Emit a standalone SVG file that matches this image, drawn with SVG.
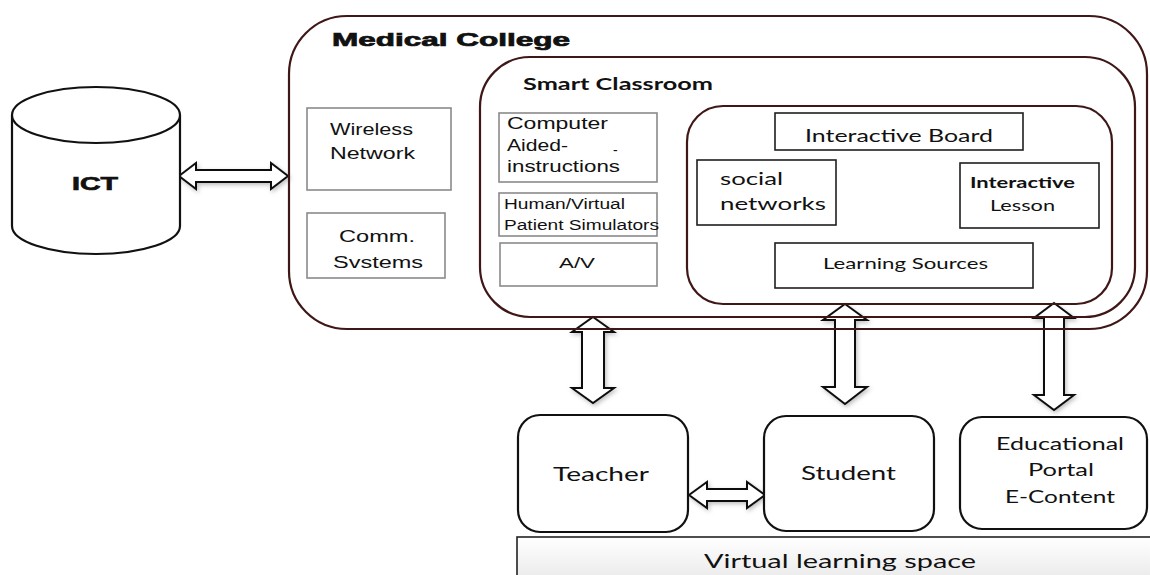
<svg xmlns="http://www.w3.org/2000/svg" width="1150" height="575" viewBox="0 0 1150 575">
<defs>
<filter id="sh" x="-30%" y="-30%" width="160%" height="160%">
<feDropShadow dx="1.5" dy="2" stdDeviation="2" flood-color="#000" flood-opacity="0.25"/>
</filter>
<linearGradient id="vg" x1="0" y1="0" x2="0" y2="1">
<stop offset="0" stop-color="#ffffff"/>
<stop offset="1" stop-color="#e6e6e6"/>
</linearGradient>
<style>
.cont{fill:none;stroke:#3f1717;stroke-width:2.2}
.gbox{fill:#fff;stroke:#8a8a8a;stroke-width:1.6}
.dbox{fill:#fff;stroke:#1e1e1e;stroke-width:1.6}
.rbox{fill:#fff;stroke:#111;stroke-width:2.2}
.arr{fill:#fff;stroke:#111;stroke-width:2;stroke-linejoin:miter;filter:url(#sh)}
.hv{font-family:"Liberation Sans",Arial,sans-serif;fill:#111}
.cal{font-family:Lato,"Open Sans",sans-serif;fill:#111}
.b{font-weight:bold}
.heavy{font-weight:bold;stroke:#111;stroke-width:0.7}
</style>
</defs>

<g id="connectors">
<polygon class="arr" points="179,176 196,163 196,170 271,170 271,163 288,176 271,189 271,182 196,182 196,189"/>
<polygon class="arr" points="593,317 614,332 604,332 604,388 614,388 593,403 572,388 582,388 582,332 572,332"/>
<polygon class="arr" points="845,304 867,320 855,320 855,387 867,387 845,404 823,387 835,387 835,320 823,320"/>
<polygon class="arr" points="1054,303 1074,318 1064,318 1064,395 1074,395 1054,410 1034,395 1044,395 1044,318 1034,318"/>
<polygon class="arr" points="689,495 707,482 707,489 747,489 747,482 765,495 747,508 747,501 707,501 707,508"/>
</g>

<g id="ict">
<path d="M12,115 L12,226 A84,28 0 0 0 180,226 L180,115" fill="#fff" stroke="#111" stroke-width="2.2"/>
<ellipse cx="96" cy="115" rx="84" ry="28" fill="#fff" stroke="#111" stroke-width="2.2"/>
<text class="hv heavy" x="72" y="190" font-size="19" textLength="46" lengthAdjust="spacingAndGlyphs">ICT</text>
</g>

<g id="medical-college">
<rect class="cont" x="289" y="16" width="858" height="313" rx="58" ry="58"/>
<text class="hv heavy" x="332" y="46" font-size="18" textLength="238" lengthAdjust="spacingAndGlyphs">Medical College</text>
</g>

<g id="wireless-network">
<rect class="gbox" x="307" y="108" width="144" height="82"/>
<text class="hv" x="330" y="135" font-size="16" textLength="83" lengthAdjust="spacingAndGlyphs">Wireless</text>
<text class="hv" x="330" y="159" font-size="16" textLength="85" lengthAdjust="spacingAndGlyphs">Network</text>
</g>

<g id="comm-systems">
<rect class="gbox" x="307" y="213" width="138" height="65"/>
<text class="hv" x="339" y="242" font-size="16" textLength="76" lengthAdjust="spacingAndGlyphs">Comm.</text>
<text class="hv" x="333" y="268" font-size="16" textLength="90" lengthAdjust="spacingAndGlyphs">Svstems</text>
</g>

<g id="smart-classroom">
<rect class="cont" x="480" y="57" width="655" height="260" rx="50" ry="50"/>
<text class="cal b" x="523" y="90" font-size="17" textLength="190" lengthAdjust="spacingAndGlyphs">Smart Classroom</text>
</g>

<g id="computer-aided">
<rect class="gbox" x="499" y="113" width="158" height="69"/>
<text class="hv" x="507" y="129" font-size="17" textLength="101" lengthAdjust="spacingAndGlyphs">Computer</text>
<text class="hv" x="507" y="151" font-size="17" textLength="61" lengthAdjust="spacingAndGlyphs">Aided-</text>
<text class="hv" x="613" y="155" font-size="14">-</text>
<text class="hv" x="507" y="172" font-size="17" textLength="113" lengthAdjust="spacingAndGlyphs">instructions</text>
</g>

<g id="simulators">
<rect class="gbox" x="499" y="193" width="158" height="43"/>
<text class="hv" x="504" y="209" font-size="14" textLength="121" lengthAdjust="spacingAndGlyphs">Human/Virtual</text>
<text class="hv" x="504" y="230" font-size="14" textLength="155" lengthAdjust="spacingAndGlyphs">Patient Simulators</text>
</g>

<g id="av">
<rect class="gbox" x="500" y="243" width="157" height="43"/>
<text class="hv" x="559" y="268" font-size="14" textLength="36" lengthAdjust="spacingAndGlyphs">A/V</text>
</g>

<g id="interactive-area">
<rect class="cont" x="687" y="106" width="425" height="198" rx="36" ry="36"/>
</g>

<g id="interactive-board">
<rect class="dbox" x="775" y="113" width="248" height="37"/>
<text class="cal" x="805" y="142" font-size="18" textLength="188" lengthAdjust="spacingAndGlyphs">Interactive Board</text>
</g>

<g id="social-networks">
<rect class="dbox" x="697" y="160" width="139" height="65"/>
<text class="cal" x="720" y="185" font-size="17" textLength="63" lengthAdjust="spacingAndGlyphs">social</text>
<text class="cal" x="720" y="210" font-size="17" textLength="106" lengthAdjust="spacingAndGlyphs">networks</text>
</g>

<g id="interactive-lesson">
<rect class="dbox" x="960" y="163" width="139" height="65"/>
<text class="cal b" x="970" y="188" font-size="16" textLength="105" lengthAdjust="spacingAndGlyphs">Interactive</text>
<text class="cal" x="990" y="211" font-size="16" textLength="65" lengthAdjust="spacingAndGlyphs">Lesson</text>
</g>

<g id="learning-sources">
<rect class="dbox" x="775" y="243" width="258" height="45"/>
<text class="cal" x="823" y="269" font-size="16" textLength="165" lengthAdjust="spacingAndGlyphs">Learning Sources</text>
</g>

<g id="teacher">
<rect class="rbox" x="518" y="415" width="170" height="117" rx="22" ry="22"/>
<text class="cal" x="553" y="481" font-size="20" textLength="96" lengthAdjust="spacingAndGlyphs">Teacher</text>
</g>

<g id="student">
<rect class="rbox" x="764" y="416" width="170" height="115" rx="22" ry="22"/>
<text class="cal" x="801" y="480" font-size="20" textLength="95" lengthAdjust="spacingAndGlyphs">Student</text>
</g>

<g id="educational-portal">
<rect class="rbox" x="960" y="417" width="187" height="112" rx="22" ry="22"/>
<text class="cal" x="996" y="450" font-size="18" textLength="128" lengthAdjust="spacingAndGlyphs">Educational</text>
<text class="cal" x="1028" y="476" font-size="18" textLength="66" lengthAdjust="spacingAndGlyphs">Portal</text>
<text class="cal" x="1005" y="503" font-size="18" textLength="110" lengthAdjust="spacingAndGlyphs">E-Content</text>
</g>

<g id="virtual-learning-space">
<rect x="517" y="537" width="645" height="50" fill="url(#vg)" stroke="#222" stroke-width="1.6"/>
<text class="cal" x="840" y="568" font-size="20" text-anchor="middle" textLength="272" lengthAdjust="spacingAndGlyphs">Virtual learning space</text>
</g>
</svg>
